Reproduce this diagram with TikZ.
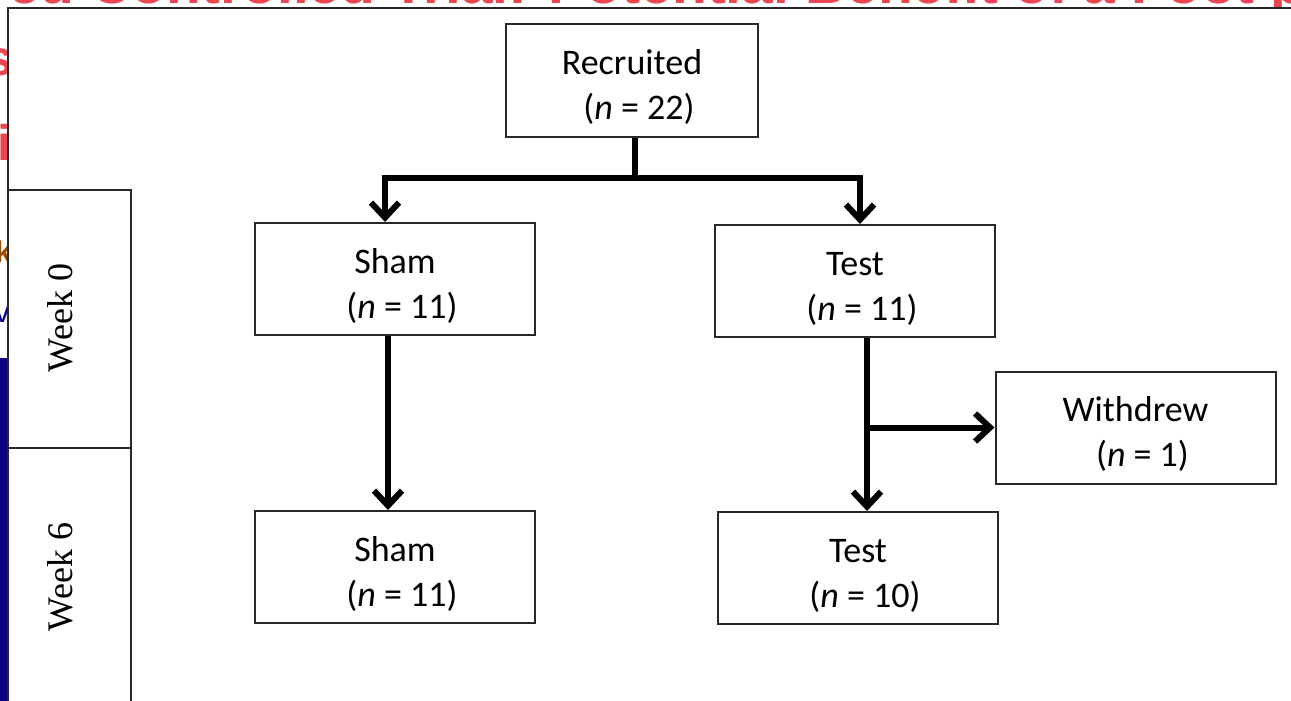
\documentclass[tikz,border=0pt]{standalone}
\usepackage{fontspec}
\setmainfont{Carlito}
\newfontfamily\weekfont{Liberation Serif}
\newfontfamily\slidefont{Liberation Sans}
\usetikzlibrary{arrows.meta}
\definecolor{slidered}{RGB}{236,70,80}
\definecolor{slidenavy}{RGB}{10,0,130}
\definecolor{frameline}{RGB}{40,40,40}
% two-line box text: a top strut lowers the block slightly, the count line is indented
\newcommand{\boxlines}[2]{\rule{0pt}{38pt}#1\\\hspace*{14pt}#2}

\begin{document}
\begin{tikzpicture}[x=1pt,y=-1pt,
  box/.style={draw=frameline, line width=2pt, fill=white, inner sep=0pt,
    minimum width=280pt, minimum height=112pt, align=center,
    font=\fontsize{36}{45}\selectfont},
  link/.style={line width=6pt},
  flow/.style={line width=6pt, -{Straight Barb[length=15pt,width=28pt,line width=6pt]}},
  weeklabel/.style={rotate=90, font=\weekfont\fontsize{36}{40}\selectfont},
  grid/.style={draw=frameline, line width=1.5pt},
  slidetext/.style={inner sep=0pt, font=\slidefont\bfseries\fontsize{50}{60}\selectfont}]

\useasboundingbox (0,0) rectangle (1291,701);
\fill[white] (0,0) rectangle (1291,701);

% slide behind the figure: title and side decoration, mostly covered
\begin{scope}
  \clip (0,0) rectangle (1291,6.5);
  \node[slidetext, anchor=base west, text=slidered,
        font=\slidefont\bfseries\fontsize{57}{68}\selectfont] (slidetitle) at (8,4)
        {ed Controlled Trial: Potential Benefit of a Foot p};
\end{scope}
\begin{scope}
  \clip (0,8) rectangle (7,701);
  \node[slidetext, anchor=base east, text=slidered] (sideS) at (14,75) {s};
  \node[slidetext, anchor=base east, text=slidered] (sideI) at (12,160) {i};
  \node[slidetext, anchor=base east, text=orange!60!black,
        font=\slidefont\bfseries\fontsize{30}{36}\selectfont] (sideK) at (12,262) {k};
  \node[slidetext, anchor=base east, text=blue!60!black,
        font=\slidefont\fontsize{30}{36}\selectfont] (sideV) at (10,322) {v};
  \fill[slidenavy] (0,358) rectangle (7,701);
\end{scope}

% figure frame
\draw[grid] (8,701) -- (8,8) -- (1291,8);

% week column
\draw[grid] (8,190) -- (131,190) -- (131,701);
\draw[grid] (8,448) -- (131,448);
\node[weeklabel] (w0) at (60,318) {Week 0};
\node[weeklabel] (w6) at (60,577) {Week 6};

% boxes
\node[box, minimum width=252pt, minimum height=113pt] (rec) at (632,80.5)
  {\boxlines{Recruited}{(\textit{n} = 22)}};
\node[box] (sham0) at (395,279) {\boxlines{Sham}{(\textit{n} = 11)}};
\node[box] (test0) at (855,281) {\boxlines{Test}{(\textit{n} = 11)}};
\node[box] (wd) at (1135.5,427.5) {\boxlines{Withdrew}{(\textit{n} = 1)}};
\node[box] (sham6) at (395,567) {\boxlines{Sham}{(\textit{n} = 11)}};
\node[box] (test6) at (858,568) {\boxlines{Test}{(\textit{n} = 10)}};

% connectors
\coordinate (split) at (635,178);
\coordinate (jl) at (385,178);
\coordinate (jr) at (860,178);
\coordinate (branch) at (867,427.5);
\draw[link] (rec.south -| split) -- (split);
\draw[link, line cap=rect] (jl) -- (jr);
\draw[flow] (jl) -- (jl |- sham0.north);
\draw[flow] (jr) -- (jr |- test0.north);
\draw[flow] (sham0.south -| 388,0) -- (sham6.north -| 388,0);
\draw[flow] (test0.south -| branch) -- (test6.north -| branch);
\draw[flow] (branch) -- (wd.west);
\end{tikzpicture}
\end{document}
